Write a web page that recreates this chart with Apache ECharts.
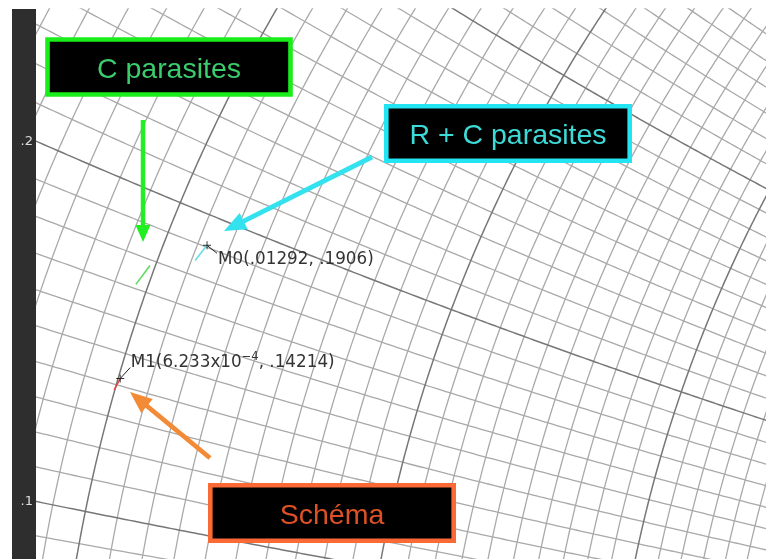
<!DOCTYPE html>
<html><head><meta charset="utf-8">
<script src="https://cdn.jsdelivr.net/npm/echarts@6.0.0/dist/echarts.min.js"></script>
<style>html,body{margin:0;padding:0;background:#fff}#c{width:766px;height:559px}</style>
</head><body><div id="c"></div>
<script>
// ---- View window (reflection-coefficient plane, zoomed Smith chart) ----
const gammaReRange = [-1.00988, -0.57065];
const gammaImRange = [0.16930, 0.50162];

// ---- Smith grid definition (normalized r and x) ----
const gridStep = 0.01;
const rGridFrom = -0.10, rGridTo = 0.30;
const xGridFrom = 0.05, xGridTo = 0.45;
const majorStep = 0.1;

// reactance labels on the left strip
const reactanceTickValues = [0.2, 0.1];
const reactanceTickLabels = ['.2', '.1'];

// ---- Traces (normalized impedance r + jx) ----
const schemaR = [-0.0002, 0.0006233];
const schemaX = [0.1383, 0.14214];
const cParasitesR = [-0.0037, -0.0016];
const cParasitesX = [0.1713, 0.1783];
const rcParasitesR = [0.0111, 0.01292];
const rcParasitesX = [0.1847, 0.1906];

// ---- Markers ----
const markerNames = ['M0', 'M1'];
const markerR = [0.01292, 0.0006233];
const markerX = [0.1906, 0.14214];

// ---- Annotation texts ----
const boxTexts = ['C parasites', 'R + C parasites', 'Schéma'];

function gamma(r, x) {
  const den = (r + 1) * (r + 1) + x * x;
  return [(r * r + x * x - 1) / den, 2 * x / den];
}
function isMajor(v) { return Math.abs(v / majorStep - Math.round(v / majorStep)) < 1e-6; }

const series = [];
const minorStyle = { color: '#a9a9a9', width: 1.3 };
const majorStyle = { color: '#777777', width: 1.5 };
function gridLine(pts, major) {
  series.push({ type: 'line', data: pts, showSymbol: false, symbol: 'none', silent: true,
    lineStyle: major ? majorStyle : minorStyle, z: major ? 2 : 1, animation: false, clip: true });
}
const nR = Math.round((rGridTo - rGridFrom) / gridStep);
for (let i = 0; i <= nR; i++) {
  const r = +(rGridFrom + i * gridStep).toFixed(4);
  const pts = [];
  for (let x = 0; x <= 0.8; x += 0.0015) pts.push(gamma(r, x));
  gridLine(pts, isMajor(r));
}
const nX = Math.round((xGridTo - xGridFrom) / gridStep);
for (let i = 0; i <= nX; i++) {
  const x = +(xGridFrom + i * gridStep).toFixed(4);
  const pts = [];
  for (let r = -0.25; r <= 0.6; r += 0.0015) pts.push(gamma(r, x));
  gridLine(pts, isMajor(x));
}
function trace(rs, xs, color) {
  series.push({ type: 'line', data: rs.map((r, i) => gamma(r, xs[i])), symbol: 'none',
    lineStyle: { color: color, width: 1.6 }, z: 5, animation: false, silent: true });
}
trace(schemaR, schemaX, '#e04a4a');
trace(cParasitesR, cParasitesX, '#5fd95f');
trace(rcParasitesR, rcParasitesX, '#66dde6');

series.push({ type: 'scatter', data: markerR.map((r, i) => gamma(r, markerX[i])),
  symbol: 'path://M0,4.4h10v1.2h-10zM4.4,0h1.2v10h-1.2z', symbolSize: 8,
  itemStyle: { color: '#000' }, z: 8, animation: false, silent: true });

const chart = echarts.init(document.getElementById('c'), null, { renderer: 'canvas' });
chart.setOption({
  animation: false,
  backgroundColor: '#fff',
  grid: { left: 36, right: 0, top: 9, bottom: 0 },
  xAxis: { type: 'value', min: gammaReRange[0], max: gammaReRange[1], show: false },
  yAxis: { type: 'value', min: gammaImRange[0], max: gammaImRange[1], show: false },
  series: series
});

// ---- overlay graphics ----
const g = [];
// left dark strip with reactance labels
g.push({ type: 'rect', shape: { x: 12, y: 9, width: 24, height: 550 }, style: { fill: '#2e2e2e' }, z: 50 });
reactanceTickValues.forEach((x, i) => {
  const re = gammaReRange[0];
  const im = 1 / x - Math.sqrt(1 / (x * x) - (re - 1) * (re - 1));
  const p = chart.convertToPixel({ gridIndex: 0 }, [re, im]);
  g.push({ type: 'text', x: 33, y: p[1], z: 51,
    style: { text: reactanceTickLabels[i], fill: '#dedede', font: '13px "DejaVu Sans"', align: 'right', verticalAlign: 'middle' } });
});

// marker leaders and labels
const labelFont = '16.8px "DejaVu Sans"';
const mPix = markerR.map((r, i) => chart.convertToPixel({ gridIndex: 0 }, gamma(r, markerX[i])));
// M0: label below-right
g.push({ type: 'line', shape: { x1: mPix[0][0], y1: mPix[0][1], x2: mPix[0][0] + 10, y2: mPix[0][1] + 8 },
  style: { stroke: '#222', lineWidth: 1 }, z: 20 });
g.push({ type: 'text', x: mPix[0][0] + 11, y: mPix[0][1] + 14.5, z: 20,
  style: { text: markerNames[0] + '(.01292, .1906)', fill: '#333', font: labelFont, verticalAlign: 'middle' } });
// M1: label above-right
g.push({ type: 'line', shape: { x1: mPix[1][0], y1: mPix[1][1], x2: mPix[1][0] + 10, y2: mPix[1][1] - 11 },
  style: { stroke: '#222', lineWidth: 1 }, z: 20 });
g.push({ type: 'text', x: mPix[1][0] + 10.5, y: mPix[1][1] - 15.5, z: 20,
  style: { text: '{n|' + markerNames[1] + '(6.233x10}{s|\u22124}{n|, .14214)}', verticalAlign: 'middle',
    rich: { n: { fill: '#333', font: labelFont }, s: { fill: '#333', font: '11.5px "DejaVu Sans"', padding: [0, 0, 12, 0] } } } });

// annotation boxes
function box(x, y, w, h, border, text, textColor, dy) {
  g.push({ type: 'rect', shape: { x: x, y: y, width: w, height: h }, z: 30,
    style: { fill: '#000', stroke: border, lineWidth: 4.6 } });
  g.push({ type: 'text', x: x + w / 2, y: y + h / 2 + dy, z: 31,
    style: { text: text, fill: textColor, font: '28.5px "Liberation Sans"', align: 'center', verticalAlign: 'middle' } });
}
box(47.5, 39.5, 243, 55, '#1aee1a', boxTexts[0], '#3bcc6c', 3);
box(386.3, 106.3, 243.4, 54.5, '#22e4f2', boxTexts[1], '#3ddbd8', 2.5);
box(210.3, 485.3, 243.4, 55.5, '#fb6a34', boxTexts[2], '#dc5226', 3);

// arrows
function arrow(tx, ty, hx, hy, w, hl, hw, color) {
  const dx = hx - tx, dy = hy - ty, L = Math.hypot(dx, dy);
  const ux = dx / L, uy = dy / L, nx = -uy, ny = ux;
  const bx = hx - ux * hl, by = hy - uy * hl;
  g.push({ type: 'polygon', z: 25, style: { fill: color },
    shape: { points: [
      [tx + nx * w / 2, ty + ny * w / 2], [bx + nx * w / 2, by + ny * w / 2],
      [bx + nx * hw, by + ny * hw], [hx, hy], [bx - nx * hw, by - ny * hw],
      [bx - nx * w / 2, by - ny * w / 2], [tx - nx * w / 2, ty - ny * w / 2]] } });
}
arrow(143, 120, 143, 242, 4.5, 17, 7.5, '#22ee22');
arrow(372, 157, 224, 231, 4.8, 22, 9, '#33e2ee');
arrow(210, 458, 130, 392, 4.8, 22, 9, '#f28a36');

chart.setOption({ graphic: { elements: g } });
</script></body></html>
